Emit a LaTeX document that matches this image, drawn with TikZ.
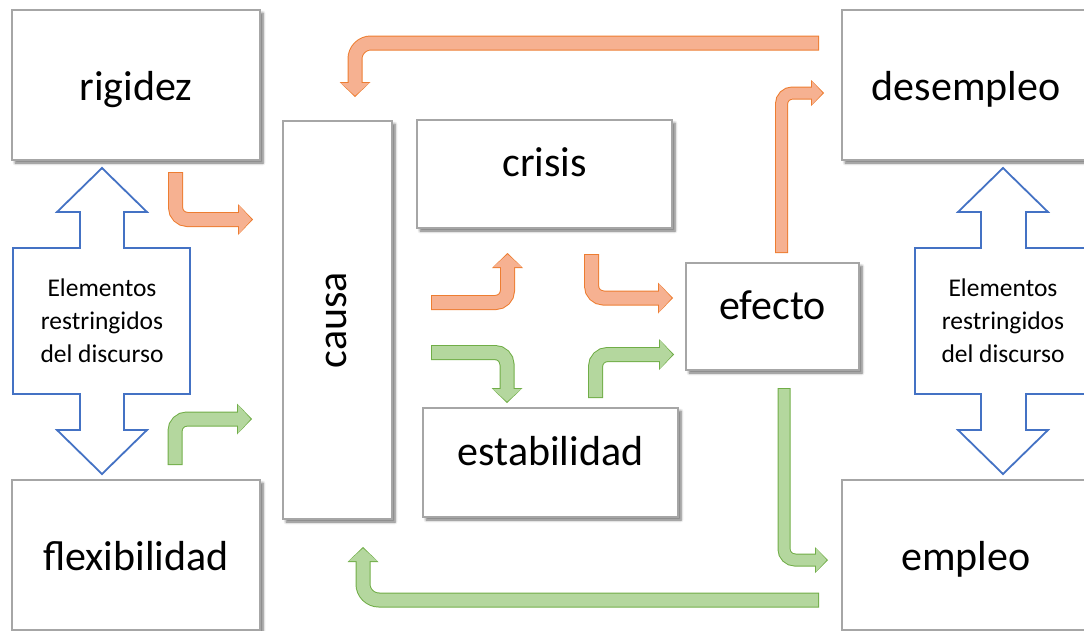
\documentclass[tikz,border=0pt]{standalone}
\usepackage{fontspec}
\setmainfont{Carlito}
\usetikzlibrary{arrows.meta,shadows.blur}
\definecolor{oline}{HTML}{ED7D31}
\definecolor{ofill}{HTML}{F6B191}
\definecolor{gline}{HTML}{70AD47}
\definecolor{gfill}{HTML}{B4D79E}
\definecolor{bline}{HTML}{4472C4}
\definecolor{boxline}{HTML}{A6A6A6}
\begin{document}
\begin{tikzpicture}[x=1pt,y=-1pt]
	\tikzstyle{box}=[draw=boxline, line width=2pt, fill=white, inner sep=0pt, blur shadow={shadow xshift=3pt,shadow yshift=-3pt,shadow blur radius=2.5pt,shadow blur steps=6,shadow opacity=55}, font=\fontsize{42}{50}\selectfont]
	\tikzstyle{big}=[box, minimum width=248pt, minimum height=150pt, text height=30pt, text depth=0pt]
	\tikzstyle{small}=[box, text height=20pt, text depth=15pt]
	\tikzstyle{hollow}=[draw=bline, line width=1.8pt, fill=white]
	\tikzstyle{note}=[align=center, font=\fontsize{25.5}{33}\selectfont]
	\tikzstyle{warm}=[preaction={draw=oline, line width=15pt, shorten <=0pt, shorten >=0pt, -{Triangle[length=15pt,width=31pt,line width=0pt]}}, draw=ofill, line width=13pt, shorten <=1pt, shorten >=1.4pt, -{Triangle[length=12.6pt,width=28.2pt,line width=0pt]}, rounded corners=12pt]
	\tikzstyle{cool}=[preaction={draw=gline, line width=15pt, shorten <=0pt, shorten >=0pt, -{Triangle[length=15pt,width=31pt,line width=0pt]}}, draw=gfill, line width=13pt, shorten <=1pt, shorten >=1.4pt, -{Triangle[length=12.6pt,width=28.2pt,line width=0pt]}, rounded corners=12pt]
	\tikzstyle{warmthin}=[preaction={draw=oline, line width=13pt, shorten <=0pt, shorten >=0pt, -{Triangle[length=13pt,width=26pt,line width=0pt]}}, draw=ofill, line width=11pt, shorten <=1pt, shorten >=1.4pt, -{Triangle[length=10.6pt,width=23.2pt,line width=0pt]}, rounded corners=11pt]
	\tikzstyle{coolthin}=[preaction={draw=gline, line width=13pt, shorten <=0pt, shorten >=0pt, -{Triangle[length=13pt,width=26pt,line width=0pt]}}, draw=gfill, line width=11pt, shorten <=1pt, shorten >=1.4pt, -{Triangle[length=10.6pt,width=23.2pt,line width=0pt]}, rounded corners=11pt]

	\useasboundingbox (0,0) rectangle (1084,630);
	\clip (0,0) rectangle (1084,630);

	% boxes
	\node [big] (rigidez) at (136,85) {rigidez};
	\node [big] (desempleo) at (966,85) {desempleo};
	\node [big] (flexibilidad) at (136,555) {flexibilidad};
	\node [big] (empleo) at (966,555) {empleo};
	\node [box, rotate=90, minimum width=398pt, minimum height=109pt, text height=25pt, text depth=8pt] (causa) at (337.5,320) {causa};
	\node [small, minimum width=255pt, minimum height=108pt] (crisis) at (544.5,174) {crisis};
	\node [small, minimum width=255pt, minimum height=109pt] (estabilidad) at (550.5,462.5) {estabilidad};
	\node [small, minimum width=173pt, minimum height=107pt] (efecto) at (772.5,316.5) {efecto};

	% double arrows
	\draw [hollow] (102,168) -- (147,212) -- (124,212) -- (124,248) -- (190,248) -- (190,394) -- (124,394) -- (124,430) -- (147,430) -- (102,474) -- (57,430) -- (80,430) -- (80,394) -- (13,394) -- (13,248) -- (80,248) -- (80,212) -- (57,212) -- cycle;
	\node [note] (elemL) at (102,321) {Elementos\\restringidos\\del discurso};
	\draw [hollow] (1003,168) -- (1048,212) -- (1026,212) -- (1026,248) -- (1091,248) -- (1091,394) -- (1026,394) -- (1026,430) -- (1048,430) -- (1003,474) -- (958,430) -- (981,430) -- (981,394) -- (915,394) -- (915,248) -- (981,248) -- (981,212) -- (958,212) -- cycle;
	\node [note] (elemR) at (1003,321) {Elementos\\restringidos\\del discurso};

	% arrow ends
	\coordinate (o1a) at (175.5,172);  \coordinate (o1b) at (253,219.5);
	\coordinate (o2a) at (431,302.5);  \coordinate (o2b) at (507.5,253);
	\coordinate (o3a) at (591.5,254);  \coordinate (o3b) at (673,298);
	\coordinate (o4a) at (781.5,253);  \coordinate (o4b) at (824,93);
	\coordinate (o5a) at (819,43);     \coordinate (o5b) at (355,97);
	\coordinate (g1a) at (175,465);    \coordinate (g1b) at (252,419);
	\coordinate (g2a) at (431,352.5);  \coordinate (g2b) at (507,403);
	\coordinate (g3a) at (595.5,398);  \coordinate (g3b) at (674,354.5);
	\coordinate (g4a) at (784,388);    \coordinate (g4b) at (828,560);
	\coordinate (g5a) at (819,600);    \coordinate (g5b) at (363,547);

	\path [warm] (o1a) |- (o1b);
	\path [warm] (o2a) -| (o2b);
	\path [warm] (o3a) |- (o3b);
	\path [warmthin] (o4a) |- (o4b);
	\path [warm, rounded corners=16pt] (o5a) -| (o5b);
	\path [cool] (g1a) |- (g1b);
	\path [cool] (g2a) -| (g2b);
	\path [cool] (g3a) |- (g3b);
	\path [coolthin] (g4a) |- (g4b);
	\path [cool, rounded corners=16pt] (g5a) -| (g5b);

\end{tikzpicture}
\end{document}
